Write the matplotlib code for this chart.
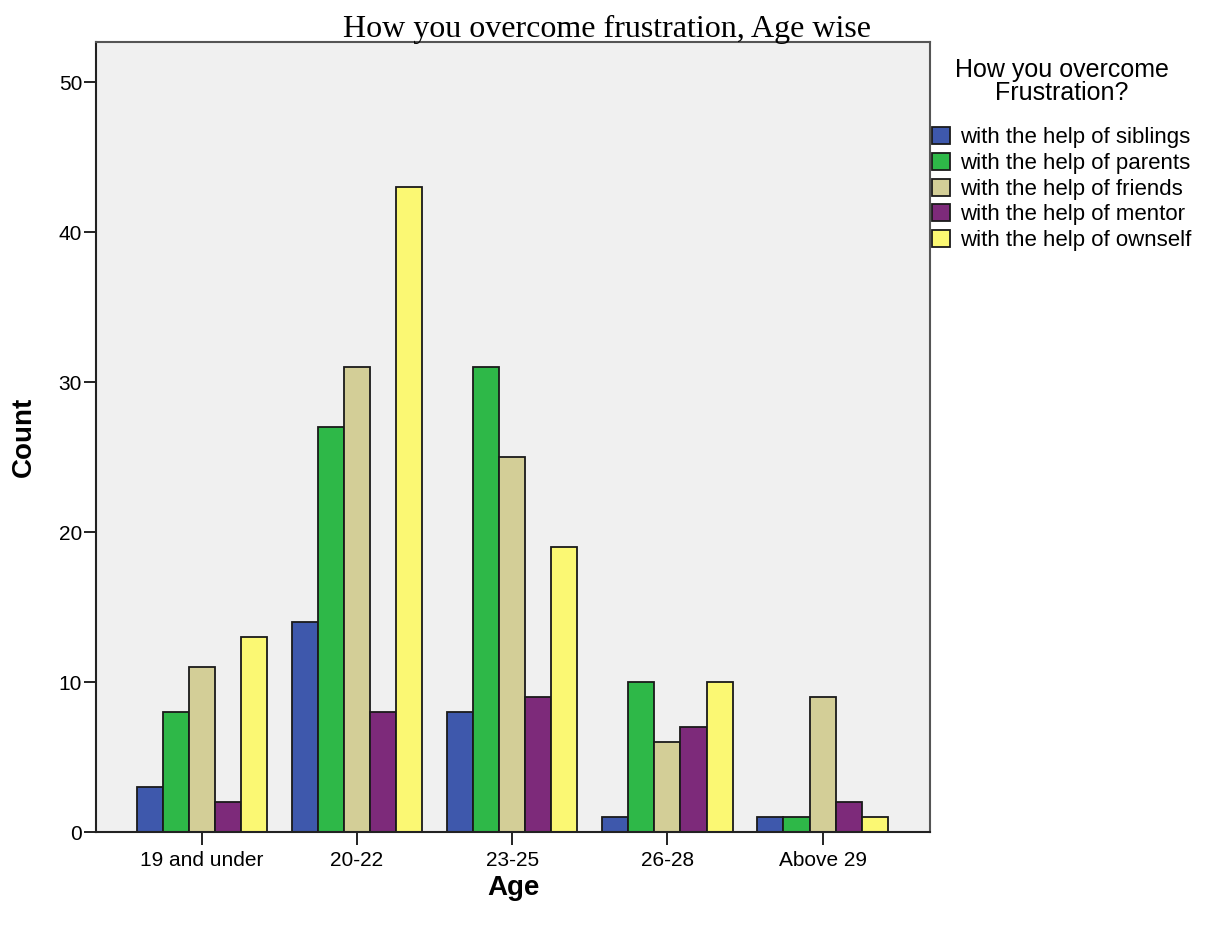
import matplotlib
matplotlib.use("Agg")
import matplotlib.pyplot as plt
import numpy as np
from matplotlib.patches import Patch

categories = ["19 and under", "20-22", "23-25", "26-28", "Above 29"]
series_names = ["with the help of siblings", "with the help of parents",
                "with the help of friends", "with the help of mentor",
                "with the help of ownself"]
siblings = [3, 14, 8, 1, 1]
parents = [8, 27, 31, 10, 1]
friends = [11, 31, 25, 6, 9]
mentor = [2, 8, 9, 7, 2]
ownself = [13, 43, 19, 10, 1]
colors = ["#3E58AC", "#2EB848", "#D3CE97", "#7D2A7A", "#FBF873"]
yticks = [0, 10, 20, 30, 40, 50]

series = [siblings, parents, friends, mentor, ownself]

fig = plt.figure(figsize=(12.1, 9.27), dpi=100)
ax = fig.add_axes([96/1210, 1-832/927, (930-96)/1210, (832-42)/927])
ax.set_facecolor("#F0F0F0")

x = np.arange(len(categories))
w = 0.168
for i, (vals, c) in enumerate(zip(series, colors)):
    ax.bar(x + (i - 2) * w, vals, width=w, color=c, edgecolor="#1a1a1a", linewidth=1.3, zorder=2)

ax.set_xlim(-0.682, 4.692)
ax.set_ylim(0, 52.7)
ax.set_xticks(x)
ax.set_xticklabels(categories, fontsize=15, family="Liberation Sans")
ax.set_yticks(yticks)
ax.set_yticklabels([str(t) for t in yticks], fontsize=15, family="Liberation Sans")
ax.tick_params(axis="both", direction="out", length=9, width=1.4, color="#222222")
ax.tick_params(axis="x", pad=5)
ax.tick_params(axis="y", pad=1)
for s in ["left", "bottom"]:
    ax.spines[s].set_linewidth(1.5)
    ax.spines[s].set_color("#222222")
for s in ["top", "right"]:
    ax.spines[s].set_linewidth(1.5)
    ax.spines[s].set_color("#555555")

ax.set_xlabel("Age", fontsize=20, fontweight="bold", family="Liberation Sans", labelpad=3)
ax.set_ylabel("Count", fontsize=20, fontweight="bold", family="Liberation Sans", labelpad=16)

fig.text(607/1210, 1-29/927, "How you overcome frustration, Age wise", ha="center", va="center",
         fontsize=23, family="Liberation Serif")

handles = [Patch(facecolor=c, edgecolor="#1a1a1a", linewidth=1.3) for c in colors]
leg = fig.legend(handles, series_names, loc="upper left", bbox_to_anchor=(932/1210, 1-58/927),
                 frameon=False, title="How you overcome\nFrustration?",
                 prop={"family": "Liberation Sans", "size": 16},
                 handlelength=0.8, handleheight=0.8, handletextpad=0.45, labelspacing=0.2,
                 borderaxespad=0, borderpad=0.0)
leg.get_title().set_fontsize(18)
leg.get_title().set_family("Liberation Sans")
leg.get_title().set_ha("center")
leg.get_title().set_linespacing(0.95)
leg._legend_box.align = "center"
leg._legend_box.sep = 16

fig.savefig("out.png", dpi=100)
